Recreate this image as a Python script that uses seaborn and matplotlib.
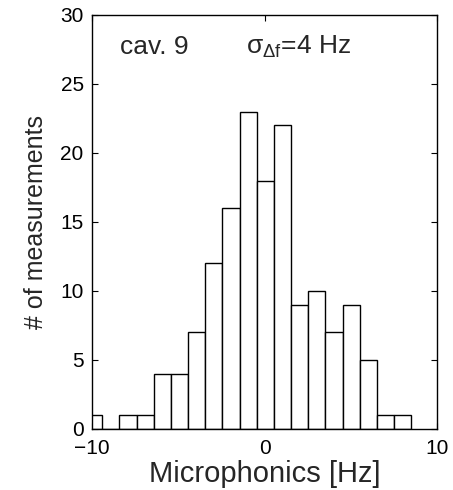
import numpy as np
import pandas as pd
import matplotlib
matplotlib.use("Agg")
import matplotlib.pyplot as plt
import seaborn as sns

# histogram: 19 bins of ~1 Hz width
bin_edges = np.linspace(-10.4, 8.5, 20)
bin_centers = (bin_edges[:-1] + bin_edges[1:]) / 2
counts = [1, 0, 1, 1, 4, 4, 7, 12, 16, 23, 18, 22, 9, 10, 7, 9, 5, 1, 1]

x_ticks = [-10, 0, 10]
y_ticks = [0, 5, 10, 15, 20, 25, 30]
cavity_label = "cav. 9"
sigma_label = "σ$_{\\mathrm{\\Delta f}}$=4 Hz"

df = pd.DataFrame({"freq": bin_centers, "n": counts})

sns.set_theme(style="ticks")
plt.rcParams["font.family"] = ["Liberation Sans", "DejaVu Sans"]
plt.rcParams["mathtext.fontset"] = "custom"
plt.rcParams["mathtext.rm"] = "Liberation Sans"
plt.rcParams["mathtext.it"] = "Liberation Sans:italic"

fig = plt.figure(figsize=(4.53, 4.90), dpi=100)
ax = fig.add_axes([0.203, 0.1245, 0.762, 0.845])

sns.histplot(data=df, x="freq", weights="n", bins=list(bin_edges), ax=ax,
             color="white", edgecolor="black", linewidth=1.0, alpha=1.0)

ax.set_xlim(-10, 10)
ax.set_ylim(0, 30)
ax.set_xticks(x_ticks)
ax.set_yticks(y_ticks)
ax.set_xticklabels(["\u221210", "0", "10"])
ax.tick_params(direction="in", length=4, width=0.8, labelsize=15,
               top=True, right=True, colors="black")
ax.tick_params(axis="x", pad=7)
ax.tick_params(axis="y", pad=6)
for side in ax.spines.values():
    side.set_visible(True)
    side.set_linewidth(1.0)
    side.set_color("black")

ax.set_xlabel("Microphonics [Hz]", fontsize=21, labelpad=2)
ax.set_ylabel("# of measurements", fontsize=18, labelpad=9)

ax.text(-8.4, 27.2, cavity_label, fontsize=19, va="baseline", ha="left")
ax.text(-1.1, 27.2, sigma_label, fontsize=19, va="baseline", ha="left")

fig.savefig("out.png", dpi=100, facecolor="white")
